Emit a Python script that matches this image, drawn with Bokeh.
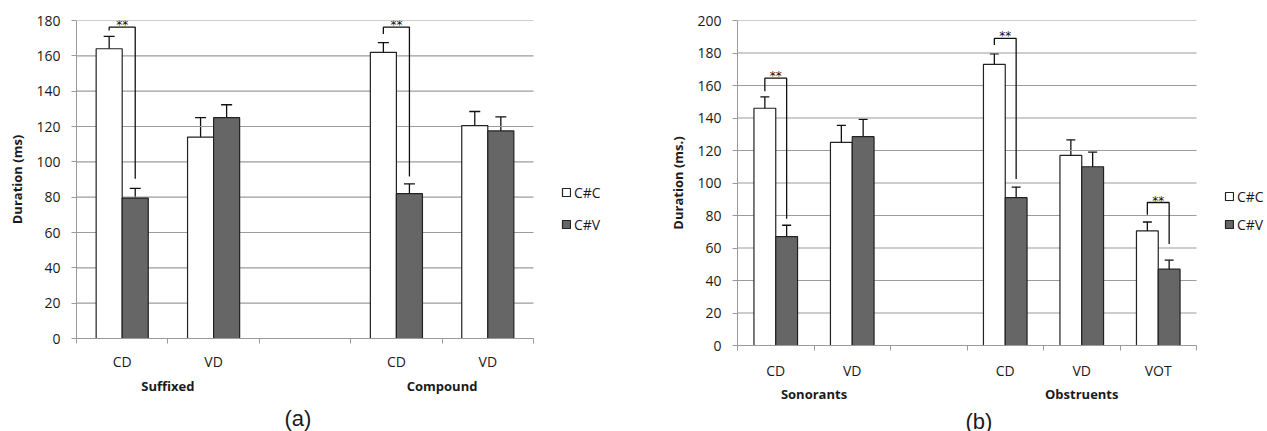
from bokeh.plotting import figure
from bokeh.models import (ColumnDataSource, Range1d, FixedTicker, LinearAxis, Whisker,
                          TeeHead, Legend, LegendItem, Title)
from bokeh.core.properties import value
from bokeh.layouts import row
from bokeh.embed import file_html
from bokeh.resources import INLINE

# ---------------- data: panel (a) ----------------
a_categories = ["CD", "VD", "", "CD", "VD"]
a_groups = ["Suffixed", "Suffixed", "", "Compound", "Compound"]
a_cc = [164, 114, None, 162, 120.5]
a_cc_err = [7, 11, None, 5.5, 8]
a_cv = [79.5, 125, None, 82, 117.5]
a_cv_err = [5.5, 7.3, None, 5.5, 8]
a_sig_index = [0, 3]
a_sig_top = [176.2, 176.2]
a_sig_cc_end = [174.3, 172.4]
a_sig_cv_end = [90.4, 91.7]

# ---------------- data: panel (b) ----------------
b_categories = ["CD", "VD", "", "CD", "VD", "VOT"]
b_groups = ["Sonorants", "Sonorants", "", "Obstruents", "Obstruents", "Obstruents"]
b_cc = [146, 125, None, 173, 117, 70.5]
b_cc_err = [7, 10.5, None, 6.5, 9.5, 5.5]
b_cv = [67, 128.5, None, 91, 110, 47]
b_cv_err = [7, 10.7, None, 6.5, 9, 5.5]
b_sig_index = [0, 3, 5]
b_sig_top = [164.5, 189, 88]
b_sig_cc_end = [156.5, 185, 80.5]
b_sig_cv_end = [78, 102.5, 62.5]

series_names = ["C#C", "C#V"]
series_colors = ["#ffffff", "#666666"]

FONT = "Open Sans"
TXT = "#1a1a1a"


def make_panel(categories, groups, cc, cc_err, cv, cv_err, sig_index, sig_top,
               sig_cc_end, sig_cv_end, ymax, ylabel, caption, width, height,
               border_left, border_top, plot_w, frame_h,
               cat_standoff, grp_standoff, cap_standoff, cap_offset, cap_size,
               legend_loc, legend_spacing):
    n = len(categories)
    frame_w = width - border_left
    x_end = n * frame_w / plot_w
    bw = 0.285
    off = bw / 2
    p = figure(width=width, height=height, output_backend="svg", toolbar_location=None,
               x_range=Range1d(0, x_end), y_range=Range1d(0, ymax),
               min_border_left=border_left, min_border_top=border_top,
               min_border_bottom=height - border_top - frame_h, min_border_right=0,
               frame_width=frame_w, frame_height=frame_h)
    p.outline_line_color = None
    p.background_fill_color = "white"
    p.xgrid.grid_line_color = None
    p.ygrid.grid_line_color = None

    yticks = list(range(0, ymax + 1, 20))
    # horizontal gridlines limited to the category area
    p.segment(x0=[0] * len(yticks), x1=[n] * len(yticks), y0=yticks, y1=yticks,
              line_color="#9c9c9c", line_width=1.2)

    idx = [i for i, c in enumerate(categories) if c != ""]
    centers = [i + 0.5 for i in idx]
    src_cc = ColumnDataSource(dict(
        x=[c - off for c in centers], top=[cc[i] for i in idx],
        upper=[cc[i] + cc_err[i] for i in idx], lower=[cc[i] - cc_err[i] for i in idx]))
    src_cv = ColumnDataSource(dict(
        x=[c + off for c in centers], top=[cv[i] for i in idx],
        upper=[cv[i] + cv_err[i] for i in idx], lower=[cv[i] - cv_err[i] for i in idx]))

    r1 = p.vbar(x="x", top="top", bottom=0, width=bw, source=src_cc,
                fill_color=series_colors[0], line_color="#222222", line_width=1.2)
    r2 = p.vbar(x="x", top="top", bottom=0, width=bw, source=src_cv,
                fill_color=series_colors[1], line_color="#222222", line_width=1.2)
    for s in (src_cc, src_cv):
        w = Whisker(source=s, base="x", upper="upper", lower="lower", dimension="height",
                    line_color="#111111", line_width=1.3,
                    upper_head=TeeHead(size=cap_size, line_color="#111111", line_width=1.3),
                    lower_head=TeeHead(size=cap_size, line_color="#111111", line_width=1.3))
        p.add_layout(w)

    # significance brackets
    xs, ys, tx, ty = [], [], [], []
    for k, i in enumerate(sig_index):
        xl = i + 0.5 - off
        xr = i + 0.5 + off
        xs.append([xl, xl, xr, xr])
        ys.append([sig_cc_end[k], sig_top[k], sig_top[k], sig_cv_end[k]])
        tx.append(i + 0.5)
        ty.append(sig_top[k])
    p.multi_line(xs=xs, ys=ys, line_color="#111111", line_width=1.3)
    p.text(x=tx, y=ty, text=["**"] * len(tx), text_font_size="12px",
           text_align="center", text_baseline="alphabetic", y_offset=-2,
           text_color="#111111", text_font=value("DejaVu Sans"))

    # y axis
    ya = p.yaxis[0]
    ya.ticker = FixedTicker(ticks=yticks)
    ya.axis_line_color = "#9a9a9a"
    ya.major_tick_line_color = "#9a9a9a"
    ya.major_tick_out = 5
    ya.major_tick_in = 0
    ya.minor_tick_line_color = None
    ya.major_label_standoff = 11
    ya.major_label_text_font = FONT
    ya.major_label_text_font_size = "14px"
    ya.major_label_text_color = TXT
    ya.axis_label = ylabel
    ya.axis_label_text_font = FONT
    ya.axis_label_text_font_size = "13px"
    ya.axis_label_text_font_style = "bold"
    ya.axis_label_text_color = TXT
    ya.axis_label_standoff = 7

    # x axis: category labels at centers, boundary ticks as minor ticks
    xa = p.xaxis[0]
    xa.bounds = (0, n)
    xa.ticker = FixedTicker(ticks=centers, minor_ticks=list(range(0, n + 1)))
    xa.major_label_overrides = {c: categories[i] for c, i in zip(centers, idx)}
    xa.axis_line_color = "#9a9a9a"
    xa.major_tick_line_color = None
    xa.major_tick_out = 0
    xa.major_tick_in = 0
    xa.minor_tick_line_color = "#9a9a9a"
    xa.minor_tick_out = 5
    xa.minor_tick_in = 0
    xa.major_label_standoff = cat_standoff
    xa.major_label_text_font = FONT
    xa.major_label_text_font_size = "14px"
    xa.major_label_text_color = TXT

    # group axis
    gnames = []
    for g in groups:
        if g and g not in gnames:
            gnames.append(g)
    gcenters = []
    for g in gnames:
        cs = [i + 0.5 for i, gg in enumerate(groups) if gg == g]
        gcenters.append(sum(cs) / len(cs))
    ga = LinearAxis(ticker=FixedTicker(ticks=gcenters),
                    major_label_overrides={c: g for c, g in zip(gcenters, gnames)},
                    axis_line_color=None, major_tick_line_color=None,
                    minor_tick_line_color=None, major_tick_out=0, major_tick_in=0,
                    minor_tick_out=0, minor_tick_in=0,
                    major_label_standoff=grp_standoff,
                    major_label_text_font=FONT, major_label_text_font_size="13px",
                    major_label_text_font_style="bold", major_label_text_color=TXT)
    p.add_layout(ga, "below")

    p.add_layout(Title(text=caption, align="left", offset=cap_offset,
                       text_font="Liberation Sans",
                       text_font_size="22px", text_font_style="normal",
                       text_color=TXT, standoff=cap_standoff), "below")

    legend = Legend(items=[LegendItem(label=series_names[0], renderers=[r1]),
                           LegendItem(label=series_names[1], renderers=[r2])],
                    location=legend_loc, orientation="vertical",
                    border_line_color=None, background_fill_alpha=0,
                    padding=0, margin=0, spacing=legend_spacing,
                    glyph_width=10, glyph_height=10, label_standoff=3,
                    label_height=20,
                    label_text_font=FONT, label_text_font_size="14px",
                    label_text_color=TXT)
    p.add_layout(legend)
    return p


p1 = make_panel(a_categories, a_groups, a_cc, a_cc_err, a_cv, a_cv_err, a_sig_index,
                a_sig_top, a_sig_cc_end, a_sig_cv_end, 180, "Duration (ms)", "(a)",
                width=630, height=431, border_left=76, border_top=20, plot_w=457,
                frame_h=318, cat_standoff=8, grp_standoff=3, cap_standoff=12,
                cap_offset=208, cap_size=11, legend_loc=(485, 104), legend_spacing=12)
p2 = make_panel(b_categories, b_groups, b_cc, b_cc_err, b_cv, b_cv_err, b_sig_index,
                b_sig_top, b_sig_cc_end, b_sig_cv_end, 200, "Duration (ms.)", "(b)",
                width=637, height=431, border_left=107, border_top=19, plot_w=459,
                frame_h=325, cat_standoff=10, grp_standoff=2, cap_standoff=2,
                cap_offset=228, cap_size=9, legend_loc=(487, 111), legend_spacing=8)

layout = row(p1, p2)
open("out.html", "w").write(file_html(layout, INLINE))
